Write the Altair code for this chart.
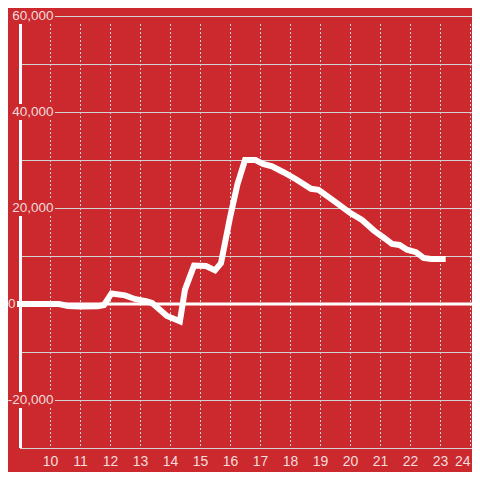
import altair as alt
import pandas as pd

# ---- data ----
hours = [9.0, 10.3, 10.6, 11.0, 11.6, 11.8, 12.05, 12.5, 12.85, 13.2, 13.4, 13.9,
         14.33, 14.5, 14.8, 15.2, 15.5, 15.7, 16.0, 16.25, 16.5, 16.85, 17.1, 17.4,
         17.8, 18.2, 18.5, 18.7, 18.95, 19.3, 19.7, 20.0, 20.4, 20.8, 21.15, 21.4,
         21.65, 21.9, 22.2, 22.45, 22.7, 23.09]
values = [0, 0, -400, -500, -450, -200, 2200, 1800, 1000, 600, 200, -2500,
          -3600, 3000, 8000, 7900, 7000, 8500, 18000, 25000, 30000, 30000, 29200, 28700,
          27400, 26000, 24800, 24000, 23800, 22200, 20400, 19000, 17500, 15300, 13700, 12500,
          12300, 11300, 10800, 9600, 9400, 9400]

hour_ticks = [10, 11, 12, 13, 14, 15, 16, 17, 18, 19, 20, 21, 22, 23, 24]
grid_values = [-30000, -20000, -10000, 10000, 20000, 30000, 40000, 50000, 60000]
label_values = [60000, 40000, 20000, -20000]
label_texts = ["60,000", "40,000", "20,000", "-20,000"]
zero_label = ["0"]

BG = "#cc292e"
GRID = "#d3d3d3"
LABEL = "#f3dcdc"
FONT = "Liberation Sans"

PW = 452  # plot width (page x 20 .. 472)
xscale = alt.Scale(domain=[9, 9 + PW / 30], nice=False, zero=False)
yscale = alt.Scale(domain=[-30000, 60000], nice=False, zero=False)
xaxis = alt.Axis(values=hour_ticks, format="d", labelFontSize=14, labelColor=LABEL,
                 labelFont=FONT, domain=False, ticks=False, grid=False, labelPadding=6,
                 title=None, labelFlush=3)

line_df = pd.DataFrame({"h": hours, "v": values})
grid_df = pd.DataFrame({"v": grid_values})
hour_df = pd.DataFrame({"h": hour_ticks})
lab_df = pd.DataFrame({"v": label_values, "t": label_texts})
zero_df = pd.DataFrame({"v": [0], "t": zero_label})

grid_h = alt.Chart(grid_df).mark_rule(color=GRID, strokeWidth=1, yOffset=0.5).encode(
    y=alt.Y("v:Q", scale=yscale, axis=None),
    x=alt.value(0), x2=alt.value(PW))

grid_v = alt.Chart(hour_df).transform_calculate(
    ytop="58333", ybot="-29583"
).mark_rule(color=GRID, strokeWidth=1, strokeDash=[2, 2], xOffset=0.5).encode(
    x=alt.X("h:Q", scale=xscale, axis=xaxis),
    y=alt.Y("ytop:Q", scale=yscale, axis=None), y2="ybot:Q")

zero_line = alt.Chart(zero_df).mark_rule(color="white", strokeWidth=3).encode(
    y=alt.Y("v:Q", scale=yscale, axis=None),
    x=alt.value(0), x2=alt.value(PW))

y_axis_line = alt.Chart(zero_df).transform_calculate(
    ytop="60000", ybot="-30000"
).mark_rule(color="white", strokeWidth=3).encode(
    x=alt.value(0.5),
    y=alt.Y("ytop:Q", scale=yscale, axis=None), y2="ybot:Q")

data_line = alt.Chart(line_df).mark_line(color="white", strokeWidth=6, strokeCap="square").encode(
    x=alt.X("h:Q", scale=xscale, axis=xaxis),
    y=alt.Y("v:Q", scale=yscale, axis=None))

boxes = alt.Chart(lab_df).mark_rule(color=BG, strokeWidth=16).encode(
    y=alt.Y("v:Q", scale=yscale, axis=None),
    x=alt.value(-12), x2=alt.value(35))

zero_box = alt.Chart(zero_df).mark_rule(color=BG, strokeWidth=16).encode(
    y=alt.Y("v:Q", scale=yscale, axis=None),
    x=alt.value(-12), x2=alt.value(-3))

labels = alt.Chart(lab_df).mark_text(align="right", baseline="middle", fontSize=13.5,
                                     color=LABEL, font=FONT).encode(
    y=alt.Y("v:Q", scale=yscale, axis=None), x=alt.value(33.5), text="t:N")

zero_text = alt.Chart(zero_df).mark_text(align="left", baseline="middle", fontSize=13.5,
                                         color=LABEL, font=FONT).encode(
    y=alt.Y("v:Q", scale=yscale, axis=None), x=alt.value(-12), text="t:N")

chart = alt.layer(grid_h, grid_v, zero_line, y_axis_line, data_line,
                  boxes, zero_box, labels, zero_text).properties(
    width=PW, height=432,
    autosize=alt.AutoSizeParams(type="none"),
    padding={"left": 12, "top": 8, "right": 0, "bottom": 24},
    background=BG,
).configure_view(stroke=None)

chart.save("out.html", embed_options={"renderer": "svg", "actions": False})
